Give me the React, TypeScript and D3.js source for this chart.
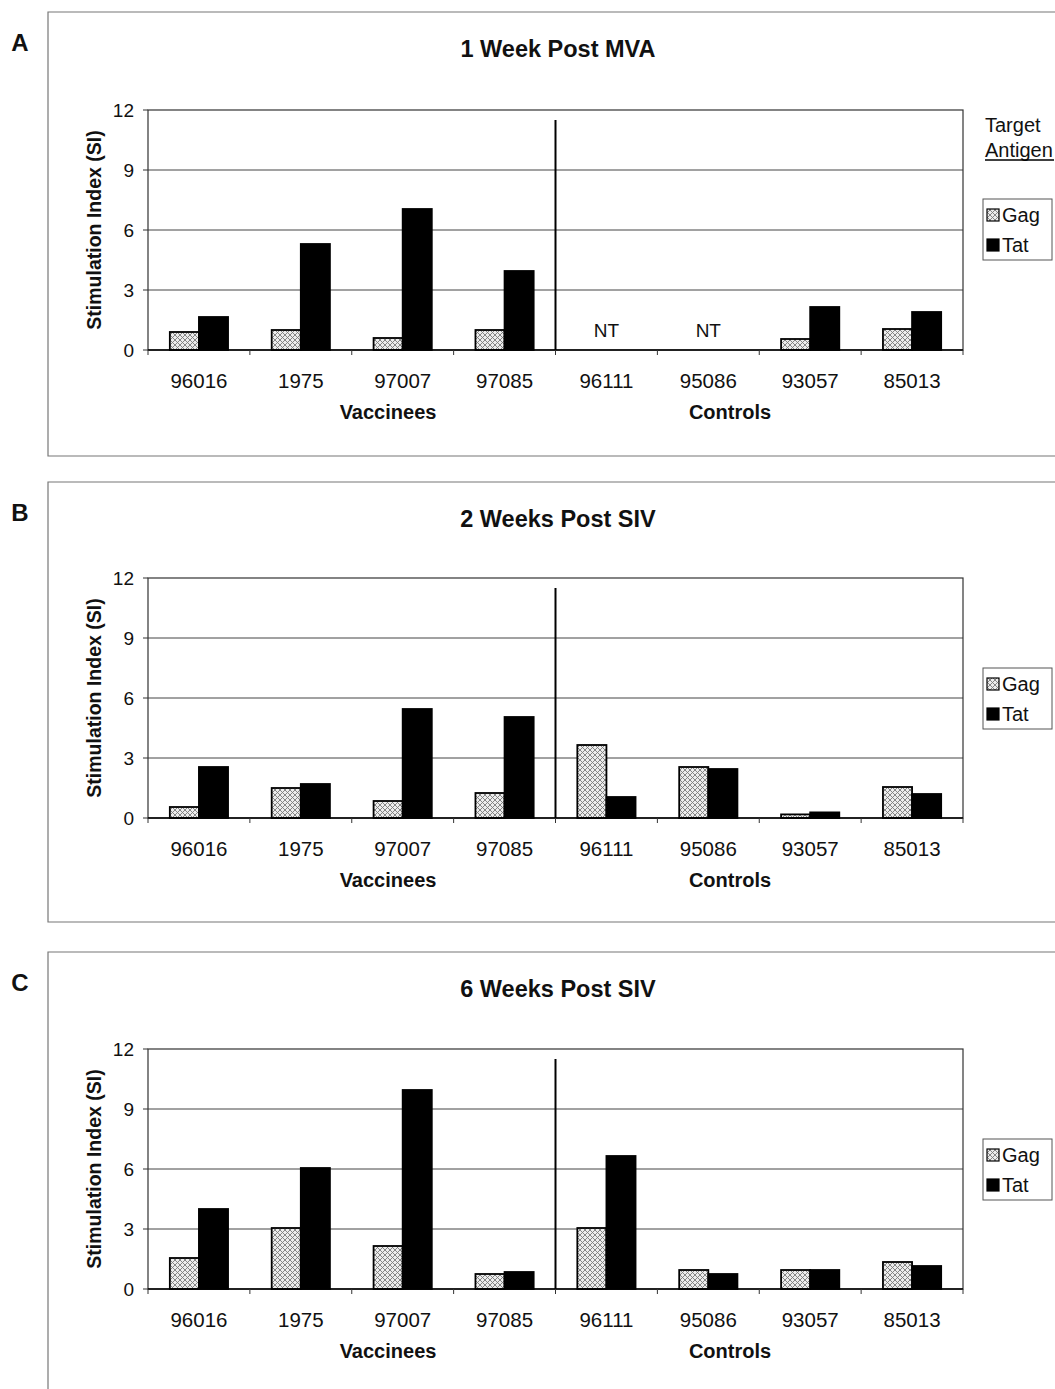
import * as d3 from 'd3';

// animals, in plot order (first four vaccinees, last four controls)
const animals = ['96016', '1975', '97007', '97085', '96111', '95086', '93057', '85013'];
const antigens = ['Gag', 'Tat'];
const yTicks = [0, 3, 6, 9, 12];

// stimulation index per animal, null = not tested (NT)
const gagWeek1Mva = [0.9, 1.0, 0.6, 1.0, null, null, 0.55, 1.05];
const tatWeek1Mva = [1.65, 5.3, 7.05, 3.95, null, null, 2.15, 1.9];
const gagWeek2Siv = [0.55, 1.5, 0.85, 1.25, 3.65, 2.55, 0.18, 1.55];
const tatWeek2Siv = [2.55, 1.7, 5.45, 5.05, 1.05, 2.45, 0.28, 1.2];
const gagWeek6Siv = [1.55, 3.05, 2.15, 0.75, 3.05, 0.95, 0.95, 1.35];
const tatWeek6Siv = [4.0, 6.05, 9.95, 0.85, 6.65, 0.75, 0.95, 1.15];

const panels = [
  { letter: 'A', title: '1 Week Post MVA', gag: gagWeek1Mva, tat: tatWeek1Mva, frameTop: 12, frameBottom: 456, plotTop: 110, showTarget: true },
  { letter: 'B', title: '2 Weeks Post SIV', gag: gagWeek2Siv, tat: tatWeek2Siv, frameTop: 482, frameBottom: 922, plotTop: 578, showTarget: false },
  { letter: 'C', title: '6 Weeks Post SIV', gag: gagWeek6Siv, tat: tatWeek6Siv, frameTop: 952, frameBottom: 1400, plotTop: 1049, showTarget: false },
];

const FONT = '"Liberation Sans", Arial, sans-serif';
const PLOT_LEFT = 148;
const PLOT_RIGHT = 963;
const PLOT_H = 240;

function Panel({ p }: { p: (typeof panels)[number] }) {
  const top = p.plotTop;
  const bottom = top + PLOT_H;
  const y = d3.scaleLinear().domain([0, 12]).range([bottom, top]);
  const x0 = d3.scaleBand().domain(animals).range([PLOT_LEFT, PLOT_RIGHT]).padding(0);
  // excel style: 150% gap between groups
  const x1 = d3.scaleBand().domain(antigens).range([0, x0.bandwidth()]).paddingInner(0).paddingOuter(0.75);
  const divX = x0('96111') as number;
  const legTop = p.showTarget ? top + 89 : top + 90;

  return (
    <g>
      {/* outer frame */}
      <path
        d={`M1060,${p.frameTop}H48V${p.frameBottom}H1060`}
        fill="none"
        stroke="#777"
        strokeWidth={1.2}
      />
      <text x={20} y={p.frameTop + 39} fontSize={24} fontWeight="bold" textAnchor="middle">
        {p.letter}
      </text>
      <text x={558} y={p.frameTop + 45} fontSize={23.5} fontWeight="bold" textAnchor="middle">
        {p.title}
      </text>

      {/* gridlines */}
      {yTicks.slice(1, 4).map((t) => (
        <line key={t} x1={PLOT_LEFT} x2={PLOT_RIGHT} y1={y(t)} y2={y(t)} stroke="#444" strokeWidth={1} />
      ))}
      <rect x={PLOT_LEFT} y={top} width={PLOT_RIGHT - PLOT_LEFT} height={PLOT_H} fill="none" stroke="#333" strokeWidth={1.2} />

      {/* y axis */}
      {yTicks.map((t) => (
        <g key={t}>
          <line x1={PLOT_LEFT - 5} x2={PLOT_LEFT} y1={y(t)} y2={y(t)} stroke="#333" />
          <text x={134} y={y(t) + 6.5} fontSize={19} textAnchor="end">
            {t}
          </text>
        </g>
      ))}
      <text
        transform={`translate(101,${(top + bottom) / 2}) rotate(-90)`}
        fontSize={19.5}
        fontWeight="bold"
        textAnchor="middle"
      >
        Stimulation Index (SI)
      </text>

      {/* bars */}
      {animals.map((a, i) => {
        const gx = x0(a) as number;
        const vals = [p.gag[i], p.tat[i]];
        return (
          <g key={a}>
            {vals.map((v, j) =>
              v == null ? null : (
                <rect
                  key={j}
                  x={gx + (x1(antigens[j]) as number)}
                  y={y(v)}
                  width={x1.bandwidth()}
                  height={bottom - y(v)}
                  fill={j === 0 ? 'url(#hatch)' : '#000'}
                  stroke="#000"
                  strokeWidth={1.8}
                />
              )
            )}
            {vals[0] == null && vals[1] == null && (
              <text x={gx + x0.bandwidth() / 2} y={bottom - 13} fontSize={19} textAnchor="middle">
                NT
              </text>
            )}
          </g>
        );
      })}

      {/* x axis */}
      <line x1={PLOT_LEFT} x2={PLOT_RIGHT} y1={bottom} y2={bottom} stroke="#000" strokeWidth={1.5} />
      {animals.map((a) => (
        <line key={'t' + a} x1={x0(a) as number} x2={x0(a) as number} y1={bottom} y2={bottom + 5} stroke="#333" />
      ))}
      <line x1={PLOT_RIGHT} x2={PLOT_RIGHT} y1={bottom} y2={bottom + 5} stroke="#333" />
      {animals.map((a) => (
        <text key={'l' + a} x={(x0(a) as number) + x0.bandwidth() / 2} y={bottom + 38} fontSize={20.5} textAnchor="middle">
          {a}
        </text>
      ))}
      <text x={388} y={bottom + 69} fontSize={20} fontWeight="bold" textAnchor="middle">
        Vaccinees
      </text>
      <text x={730} y={bottom + 69} fontSize={20} fontWeight="bold" textAnchor="middle">
        Controls
      </text>

      {/* vaccinees / controls divider */}
      <line x1={divX} x2={divX} y1={y(11.5)} y2={bottom} stroke="#000" strokeWidth={2} />

      {/* legend */}
      {p.showTarget && (
        <g>
          <text x={985} y={top + 22} fontSize={20}>
            Target
          </text>
          <text x={985} y={top + 47} fontSize={20}>
            Antigen
          </text>
          <line x1={985} x2={1054} y1={top + 50} y2={top + 50} stroke="#000" strokeWidth={1.3} />
        </g>
      )}
      <rect x={983} y={legTop} width={69} height={61} fill="#fff" stroke="#555" strokeWidth={1} />
      {antigens.map((k, j) => (
        <g key={k}>
          <rect
            x={987}
            y={legTop + 10 + j * 30}
            width={12}
            height={12}
            fill={j === 0 ? 'url(#hatch)' : '#000'}
            stroke="#000"
            strokeWidth={1.2}
          />
          <text x={1002} y={legTop + 23 + j * 30} fontSize={20}>
            {k}
          </text>
        </g>
      ))}
    </g>
  );
}

export default function App() {
  return (
    <svg
      width={1055}
      height={1389}
      style={{ position: 'absolute', left: 0, top: 0, background: '#fff' }}
      fontFamily={FONT}
      fill="#111"
    >
      <defs>
        <pattern id="hatch" width={5} height={5} patternUnits="userSpaceOnUse">
          <rect width={5} height={5} fill="#ececec" />
          <path d="M0,0L5,5M5,0L0,5" stroke="#7a7a7a" strokeWidth={0.9} />
        </pattern>
      </defs>
      <rect width={1055} height={1389} fill="#fff" />
      {panels.map((p) => (
        <Panel key={p.letter} p={p} />
      ))}
    </svg>
  );
}
